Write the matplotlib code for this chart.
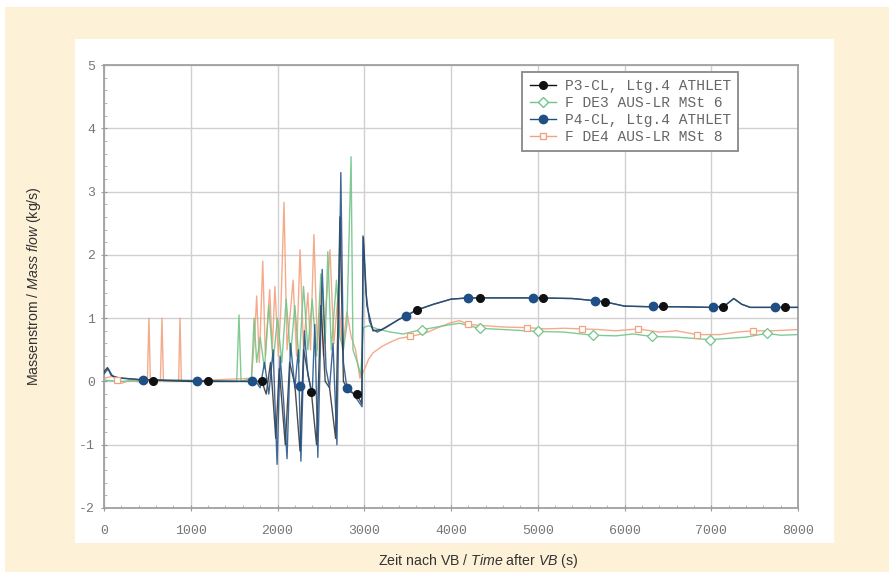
import matplotlib
matplotlib.use("Agg")
import matplotlib.pyplot as plt
from matplotlib import font_manager
from matplotlib.patches import Rectangle
from matplotlib.ticker import MultipleLocator
import numpy as np

# pick a narrow sans font for the axis titles if there is one
names = {f.name for f in font_manager.fontManager.ttflist}
title_font = 'Liberation Sans Narrow' if 'Liberation Sans Narrow' in names else 'Liberation Sans'
title_size = 11 if title_font == 'Liberation Sans Narrow' else 10.2
plt.rcParams['mathtext.fontset'] = 'custom'
plt.rcParams['mathtext.rm'] = title_font
plt.rcParams['mathtext.it'] = title_font + ':italic'
plt.rcParams['axes.unicode_minus'] = False

# P3-CL, Ltg.4 ATHLET
p3_t = [0, 40, 80, 150, 400, 1000, 1700, 1760, 1820, 1870, 1920, 1980, 2020, 2090,
        2140, 2200, 2260, 2300, 2390, 2450, 2500, 2550, 2600, 2670, 2720, 2760,
        2820, 2920, 2970, 2990, 3030, 3100, 3200, 3400, 3500, 3600, 3800, 4000,
        4200, 4600, 5000, 5400, 5700, 5800, 6000, 6300, 6600, 7000, 7150, 7260,
        7350, 7450, 7700, 8000]
p3_v = [0.15, 0.22, 0.1, 0.06, 0.03, 0.0, 0.0, 0.0, 0.0, -0.2, 0.3, -0.9, 0.2, -1.0,
        0.3, -0.05, -1.1, 0.5, -0.16, -1.0, 1.2, 0.0, -0.1, -0.9, 2.6, 0.0,
        -0.15, -0.22, -0.35, 2.28, 1.2, 0.8, 0.82, 0.98, 1.05, 1.13, 1.22, 1.3,
        1.32, 1.32, 1.32, 1.31, 1.27, 1.25, 1.19, 1.18, 1.18, 1.17, 1.19, 1.31,
        1.22, 1.17, 1.17, 1.17]
p3_mark_t = [565, 1200, 1820, 2390, 2915, 3610, 4335, 5060, 5775, 6445, 7135, 7850]
p3_mark_v = [0.0, 0.0, 0.0, -0.16, -0.2, 1.13, 1.32, 1.32, 1.26, 1.19, 1.17, 1.17]

# F DE3 AUS-LR MSt 6
de3_t = [0, 200, 500, 1000, 1530, 1556, 1580, 1700, 1730, 1760, 1800, 1850, 1900,
         1950, 2000, 2050, 2100, 2150, 2200, 2250, 2300, 2350, 2400, 2450, 2500,
         2550, 2580, 2620, 2680, 2720, 2760, 2800, 2848, 2870, 2920, 2960, 2990,
         3050, 3150, 3300, 3450, 3600, 3800, 4000, 4100, 4200, 4330, 4600, 5000,
         5300, 5640, 5900, 6100, 6320, 6600, 6985, 7200, 7400, 7640, 7800, 8000]
de3_v = [0.02, 0.0, 0.02, 0.0, 0.0, 1.05, 0.0, 0.05, 1.0, 0.3, 0.7, 0.2, 1.2,
         0.3, 1.0, 0.3, 1.3, 0.4, 1.2, 0.3, 1.5, 0.5, 1.3, 0.4, 1.7,
         0.6, 2.05, 0.5, 1.6, 0.7, 0.5, 0.9, 3.55, 0.5, 0.3, 0.1, 0.85,
         0.88, 0.83, 0.78, 0.75, 0.8, 0.85, 0.9, 0.92, 0.88, 0.84, 0.82, 0.79,
         0.78, 0.73, 0.72, 0.75, 0.71, 0.7, 0.66, 0.68, 0.7, 0.76, 0.73, 0.74]
de3_mark_t = [3660, 4330, 5000, 5640, 6320, 6985, 7640]
de3_mark_v = [0.82, 0.84, 0.79, 0.73, 0.71, 0.66, 0.76]

# P4-CL, Ltg.4 ATHLET
p4_t = [0, 50, 100, 200, 400, 800, 1200, 1650, 1750, 1800, 1850, 1900, 1950, 1995,
        2030, 2070, 2110, 2150, 2200, 2240, 2270, 2310, 2350, 2400, 2430, 2465,
        2515, 2560, 2600, 2640, 2685, 2730, 2760, 2800, 2850, 2900, 2950, 2975,
        2985, 3020, 3060, 3100, 3150, 3250, 3400, 3500, 3600, 3800, 4000, 4200,
        4600, 5000, 5400, 5700, 5800, 6000, 6300, 6600, 7000, 7150, 7260, 7350,
        7450, 7700, 8000]
p4_v = [0.12, 0.2, 0.08, 0.05, 0.03, 0.02, 0.01, 0.0, 0.0, -0.1, 0.3, -0.2, 0.5, -1.31,
        0.4, -0.3, -1.22, 0.6, -0.1, 0.5, -1.26, 0.8, 0.1, -0.2, 0.9, -1.2,
        1.77, 0.2, -0.1, 0.6, -1.0, 3.3, 0.3, -0.1, -0.15, -0.25, -0.35, -0.4,
        2.3, 1.4, 0.95, 0.82, 0.78, 0.85, 0.98, 1.05, 1.12, 1.22, 1.3, 1.32,
        1.32, 1.32, 1.31, 1.27, 1.25, 1.19, 1.18, 1.18, 1.17, 1.19, 1.31, 1.22,
        1.17, 1.17, 1.17]
p4_mark_t = [450, 1070, 1705, 2260, 2800, 3480, 4195, 4945, 5660, 6330, 7020, 7735]
p4_mark_v = [0.03, 0.01, 0.0, -0.08, -0.1, 1.04, 1.32, 1.32, 1.27, 1.19, 1.17, 1.17]

# F DE4 AUS-LR MSt 8
de4_t = [0, 100, 200, 300, 450, 500, 518, 535, 650, 668, 685, 860, 876, 892, 1200,
         1700, 1740, 1760, 1790, 1830, 1860, 1910, 1940, 1970, 2010, 2040, 2075,
         2110, 2180, 2220, 2260, 2300, 2350, 2380, 2420, 2460, 2500, 2530, 2560,
         2605, 2650, 2700, 2750, 2800, 2850, 2900, 2950, 2990, 3050, 3100, 3200,
         3300, 3400, 3530, 3700, 3850, 4000, 4100, 4200, 4400, 4600, 4875, 5100,
         5300, 5510, 5700, 5900, 6155, 6400, 6600, 6835, 7100, 7300, 7480, 7700,
         8000]
de4_v = [0.05, 0.08, -0.03, 0.02, -0.02, 0.0, 1.0, 0.0, 0.0, 1.0, 0.0, 0.0, 1.0, 0.0, 0.02,
         0.05, 0.8, 1.35, 0.3, 1.9, 0.4, 1.45, 0.5, 1.5, 0.4, 1.2, 2.83,
         0.5, 1.6, 0.4, 2.08, 0.5, 1.4, 0.5, 2.32, 0.5, 1.5, 0.4, 1.2,
         2.08, 0.6, 1.4, 0.5, 1.1, 0.7, 0.5, 0.05, 0.15, 0.35, 0.45, 0.55,
         0.62, 0.68, 0.71, 0.76, 0.85, 0.93, 0.96, 0.9, 0.88, 0.86, 0.85, 0.83,
         0.84, 0.83, 0.82, 0.8, 0.83, 0.78, 0.8, 0.74, 0.74, 0.78, 0.8, 0.8,
         0.82]
de4_mark_t = [150, 3530, 4200, 4875, 5510, 6155, 6835, 7480]
de4_mark_v = [0.02, 0.71, 0.9, 0.85, 0.83, 0.83, 0.74, 0.8]

c_p3 = '#111111'
c_de3 = '#72c58a'
c_p4 = '#1f4f85'
c_de4 = '#f3a27f'

fig = plt.figure(figsize=(8.89, 5.72), dpi=100)
fig.patch.set_facecolor('white')
W, H = 889, 572
fig.patches.append(Rectangle((5 / W, 0), 1, 1 - 7 / H, transform=fig.transFigure,
                             facecolor='#fdf1d8', edgecolor='none', zorder=-2))
fig.patches.append(Rectangle((75 / W, 1 - 543 / H), (834 - 75) / W, (543 - 39) / H,
                             transform=fig.transFigure, facecolor='white',
                             edgecolor='none', zorder=-1))

ax = fig.add_axes([104 / W, 1 - 508 / H, (798 - 104) / W, (508 - 65) / H])
ax.set_zorder(2)
ax.set_facecolor('white')

lw = 1.0
ax.plot(de4_t, de4_v, color=c_de4, lw=lw, alpha=0.9, zorder=2)
ax.plot(de3_t, de3_v, color=c_de3, lw=lw, alpha=0.9, zorder=2)
ax.plot(p3_t, p3_v, color=c_p3, lw=lw, alpha=0.75, zorder=3)
ax.plot(p4_t, p4_v, color=c_p4, lw=lw, alpha=0.85, zorder=3)

ax.plot(de4_mark_t, de4_mark_v, ls='none', marker='s', ms=5, mfc='white',
        mec=c_de4, mew=0.9, zorder=4)
ax.plot(de3_mark_t, de3_mark_v, ls='none', marker='D', ms=5, mfc='white',
        mec=c_de3, mew=0.9, zorder=4)
ax.plot(p4_mark_t, p4_mark_v, ls='none', marker='o', ms=6, color=c_p4, zorder=5)
ax.plot(p3_mark_t, p3_mark_v, ls='none', marker='o', ms=5.5, color=c_p3, zorder=5)

# legend handles: line with its marker
h1, = ax.plot([], [], color=c_p3, lw=lw, marker='o', ms=5.5)
h2, = ax.plot([], [], color=c_de3, lw=lw, marker='D', ms=5, mfc='white', mec=c_de3)
h3, = ax.plot([], [], color=c_p4, lw=lw, marker='o', ms=6)
h4, = ax.plot([], [], color=c_de4, lw=lw, marker='s', ms=5, mfc='white', mec=c_de4)
leg = ax.legend([h1, h2, h3, h4],
                ['P3-CL, Ltg.4 ATHLET', 'F DE3 AUS-LR MSt 6',
                 'P4-CL, Ltg.4 ATHLET', 'F DE4 AUS-LR MSt 8'],
                loc='upper right', bbox_to_anchor=(0.914, 0.984),
                prop={'family': 'Liberation Mono', 'size': 10.5},
                labelcolor='#666666', frameon=True, fancybox=False,
                borderpad=0.5, labelspacing=0.2, handlelength=1.8,
                handletextpad=0.6, borderaxespad=0, framealpha=1)
leg.get_frame().set_edgecolor('#888888')
leg.get_frame().set_linewidth(1.3)

ax.set_xlim(0, 8000)
ax.set_ylim(-2, 5)
ax.xaxis.set_major_locator(MultipleLocator(1000))
ax.xaxis.set_minor_locator(MultipleLocator(200))
ax.yaxis.set_major_locator(MultipleLocator(1))
ax.yaxis.set_minor_locator(MultipleLocator(0.2))
ax.grid(True, which='major', color='#d0d0d0', lw=1.0)
ax.set_axisbelow(True)
ax.tick_params(which='major', direction='inout', length=5, color='#999999',
               labelsize=9.5, labelcolor='#777777')
ax.tick_params(axis='x', which='major', pad=10)
ax.tick_params(axis='y', which='major', pad=4)
ax.tick_params(which='minor', direction='in', length=2.5, color='#aaaaaa')
for lab in ax.get_xticklabels() + ax.get_yticklabels():
    lab.set_family('Liberation Mono')
for s in ax.spines.values():
    s.set_color('#a0a0a0')
    s.set_linewidth(1.3)

fig.text(478 / W, 1 - 561 / H, r'Zeit nach VB / $\mathit{Time}$ after $\mathit{VB}$ (s)',
         ha='center', va='center', fontsize=title_size, family=title_font,
         color='#333333')
fig.text(34 / W, 1 - 286 / H, r'Massenstrom / $\mathit{Mass\ flow}$ (kg/s)',
         ha='center', va='center', rotation=90, fontsize=title_size,
         family=title_font, color='#333333')

fig.savefig('out.png', dpi=100)
